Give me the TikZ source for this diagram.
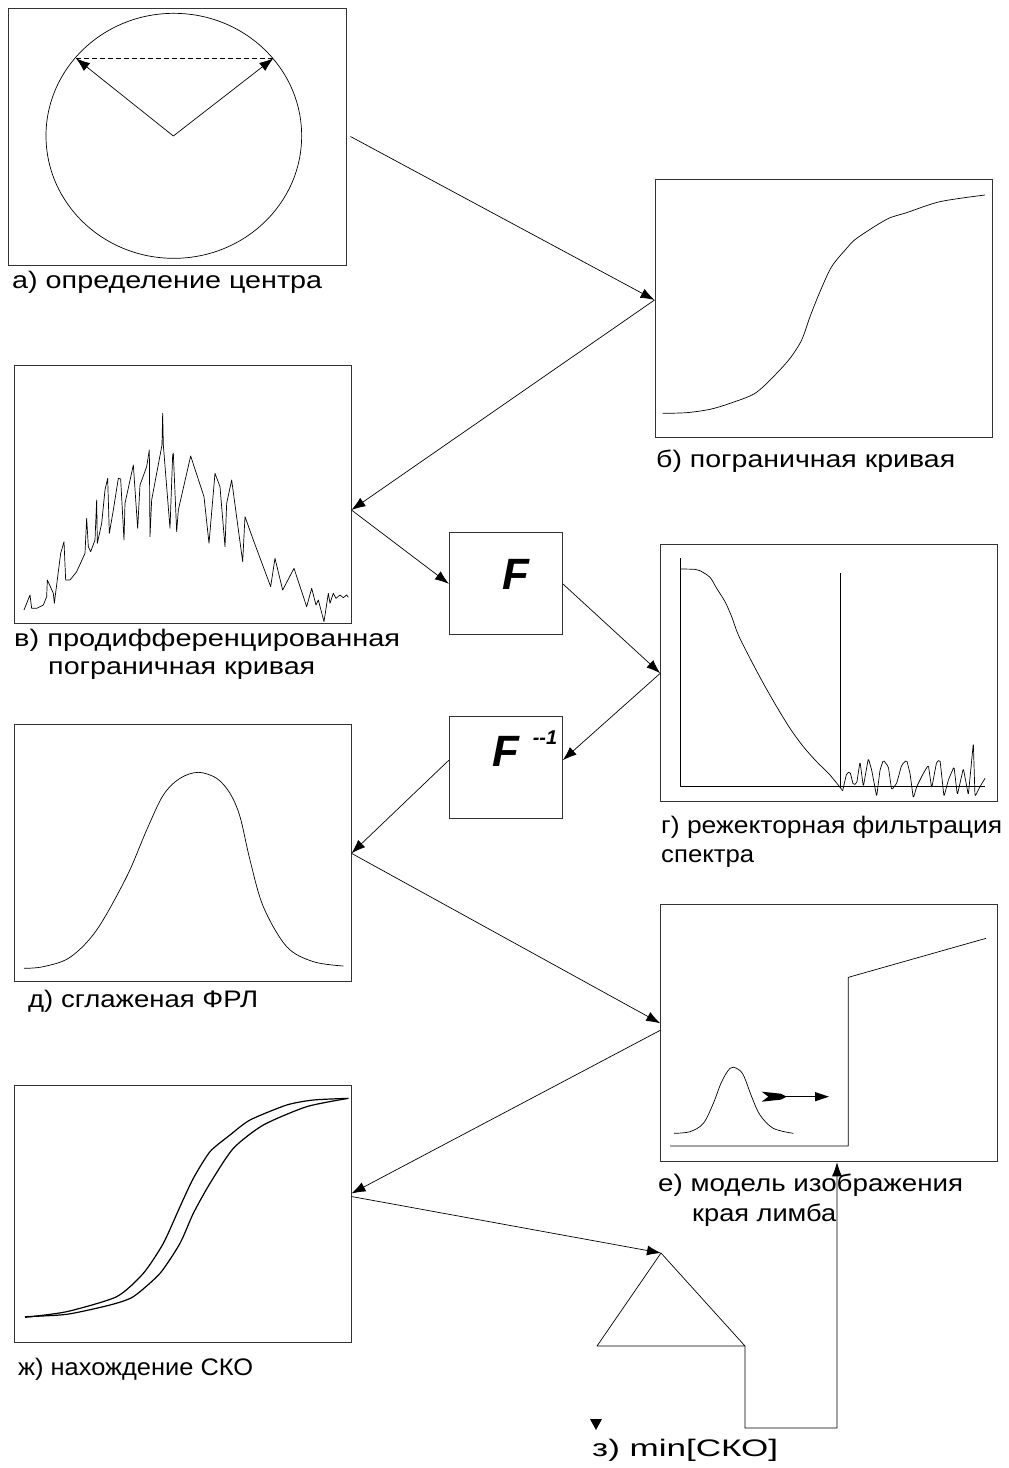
\documentclass[tikz,border=0pt]{standalone}
\usepackage{graphicx}
\usepackage{fontspec}
\setmainfont{Liberation Sans}
\newfontfamily\labfont{Liberation Sans}
\newcommand{\fitw}[2]{\resizebox{#1}{\height}{#2}}
\usetikzlibrary{arrows.meta,calc}
\begin{document}
\begin{tikzpicture}[x=1bp,y=-1bp,
  panel/.style={draw=black!80,line width=0.9bp,inner sep=0,minimum width=337bp,minimum height=257bp},
  fbox/.style={draw=black!80,line width=0.9bp,inner sep=0,minimum width=113bp,minimum height=102bp},
  conn/.style={-{Latex[length=14bp,width=10bp]},line width=0.7bp},
  curve/.style={line width=0.7bp,line join=round},
  lab/.style={anchor=base west,inner sep=0,font=\labfont\fontsize{24}{28}\selectfont},
  ftext/.style={inner sep=0,font=\bfseries\itshape\fontsize{44}{44}\selectfont}]
\useasboundingbox (0,0) rectangle (1008,1468);

% boxes
\node[panel,minimum width=338bp] (a) at (177,136.5) {};
\node[panel,minimum height=258bp] (b) at (823.5,308) {};
\node[panel,minimum height=258bp] (v) at (182.5,494) {};
\node[fbox] (F) at (505.8,583.8) {};
\node[panel] (g) at (829.2,673.3) {};
\node[fbox] (Fi) at (505.8,767.2) {};
\node[panel] (d) at (182.5,853.3) {};
\node[panel] (e) at (829.2,1033.3) {};
\node[panel] (zh) at (182.5,1213.5) {};

% labels
\node[lab] (la) at (12,288) {\fitw{310bp}{а) определение центра}};
\node[lab] (lb) at (656,467) {\fitw{299bp}{б) пограничная кривая}};
\node[lab] (lv1) at (14,646) {\fitw{386bp}{в) продифференцированная}};
\node[lab] (lv2) at (48,674) {\fitw{267bp}{пограничная кривая}};
\node[lab] (lg1) at (661,833) {\fitw{341bp}{г) режекторная фильтрация}};
\node[lab] (lg2) at (661,862) {\fitw{93bp}{спектра}};
\node[lab] (ld) at (28,1007) {\fitw{230bp}{д) сглаженая ФРЛ}};
\node[lab] (le1) at (658,1191) {\fitw{305bp}{е) модель изображения}};
\node[lab] (le2) at (692,1221) {\fitw{144bp}{края лимба}};
\node[lab] (lzh) at (18,1375) {\fitw{235bp}{ж) нахождение СКО}};
\node[lab] (lz) at (592,1456) {\fitw{186bp}{з) min[СКО]}};

% F boxes text
\node[ftext] (Ft) at (516,574) {F};
\node[ftext] (Fit) at (506,751) {F};
\node[inner sep=0,font=\bfseries\itshape\fontsize{20}{20}\selectfont] (Fis) at (545,738) {{-}{-}1};

% panel a: circle
\begin{scope}[shift={(0,0)},scale=1/3]
  \draw[curve] (521.5,407.5) ellipse [x radius=767/2, y radius=735/2];
  \coordinate (ac) at (520,408);
  \coordinate (al) at (228,175);
  \coordinate (ar) at (820,175);
\end{scope}
\draw[dashed,line width=0.7bp,dash pattern=on 5bp off 3bp] (al) -- (ar);
\draw[conn] (ac) -- (al);
\draw[conn] (ac) -- (ar);

% panel b curve
\begin{scope}[shift={(620,170)},scale=1/3]
  \draw[curve] plot[smooth,tension=0.5] coordinates {(128,730) (200,728) (270,718) (330,700) (405,670) (465,615) (510,565) (545,510) (570,440) (600,365) (635,290) (680,235) (710,205) (800,148) (860,128) (960,95) (1095,75)};
\end{scope}

% panel v noisy derivative
\begin{scope}[shift={(0,360)},scale=1/3]
  \draw[curve] (72,750) -- (90,705) -- (95,745) -- (110,745) -- (130,735) -- (140,710) -- (142,660) -- (160,700) -- (163,730) -- (168,690) -- (182,580) -- (192,545) -- (197,660) -- (210,660) -- (230,635) -- (255,580) -- (260,475) -- (265,560) -- (272,575) -- (285,540) -- (290,420) -- (292,550) -- (305,490) -- (315,390) -- (323,355) -- (328,520) -- (340,450) -- (355,355) -- (362,357) -- (372,540) -- (375,430) -- (400,315) -- (413,505) -- (420,375) -- (440,320) -- (448,270) -- (450,530) -- (455,420) -- (486,255) -- (488,160) -- (490,255) -- (510,505) -- (518,285) -- (520,280) -- (530,515) -- (535,450) -- (572,288) -- (612,410) -- (627,550) -- (645,340) -- (660,380) -- (675,560) -- (680,430) -- (695,360) -- (728,605) -- (735,470) -- (760,540) -- (812,680) -- (825,595) -- (848,690) -- (882,625) -- (920,740) -- (935,685) -- (948,735) -- (955,720) -- (972,785) -- (985,700) -- (990,730) -- (1000,700) -- (1008,715) -- (1020,705) -- (1030,713) -- (1040,705) -- (1045,712);
\end{scope}

% panel g spectrum
\begin{scope}[shift={(650,540)},scale=1/3]
  \draw[curve] (90,55) -- (90,740) -- (1005,740);
  \draw[curve] plot[smooth,tension=0.5] coordinates {(90,87) (135,88) (150,92) (180,112) (200,145) (225,185) (245,230) (265,285) (300,355) (340,430) (380,500) (420,565) (460,620) (500,665) (540,705) (578,752)};
  \draw[line width=1.4bp] (572,100) -- (572,745);
  \draw[curve,rounded corners=1.5bp] (578,752) -- (590,700) -- (600,695) -- (610,735) -- (620,730) -- (630,665) -- (640,740) -- (655,655) -- (665,690) -- (680,770) -- (690,690) -- (700,660) -- (715,680) -- (725,750) -- (740,730) -- (755,675) -- (770,660) -- (780,700) -- (790,775) -- (800,740) -- (820,700) -- (835,675) -- (845,745) -- (860,665) -- (870,660) -- (882,770) -- (895,720) -- (912,680) -- (922,765) -- (940,685) -- (955,765) -- (970,610) -- (975,770) -- (990,740) -- (1005,715);
\end{scope}

% panel d bell
\begin{scope}[shift={(0,720)},scale=1/3]
  \draw[curve] plot[smooth,tension=0.55] coordinates {(72,745) (130,740) (210,712) (290,630) (380,470) (440,330) (490,225) (540,175) (595,157) (650,175) (690,220) (720,290) (750,420) (790,560) (860,680) (940,725) (1030,738)};
\end{scope}

% panel e model
\begin{scope}[shift={(650,900)},scale=1/3]
  \draw[curve] (60,738) -- (595,738) -- (595,232) -- (1008,115);
  \draw[curve] plot[smooth,tension=0.55] coordinates {(72,700) (120,695) (160,670) (190,610) (215,545) (240,505) (260,505) (280,525) (305,590) (330,645) (370,685) (430,700)};
  \fill (335,575) -- (392,581) -- (410,590) -- (392,599) -- (335,605) -- (355,590) -- cycle;
  \draw[line width=1bp] (405,590) -- (500,590);
  \fill (495,576) -- (537,590) -- (495,604) -- cycle;
\end{scope}

% panel zh two curves
\begin{scope}[shift={(0,1080)},scale=1/3]
  \draw[line width=1.2bp,line join=round] plot[smooth,tension=0.4] coordinates {(75,712) (200,695) (350,650) (430,580) (490,490) (540,380) (580,295) (630,215) (690,165) (750,120) (860,75) (940,60) (1045,55)};
  \draw[line width=1.2bp,line join=round] plot[smooth,tension=0.4] coordinates {(75,710) (200,703) (330,675) (400,650) (480,580) (540,490) (580,400) (630,310) (700,205) (790,135) (920,80) (1045,55)};
\end{scope}

% triangle block
\coordinate (tA) at (661,1253);
\coordinate (tL) at (597,1346);
\coordinate (tR) at (745,1346);
\coordinate (tB) at (837,1428);
\draw[curve] (tA) -- (tL) -- (tR) -- cycle;
\fill (590,1419) -- (602,1419) -- (596,1430) -- cycle;

% connectors
\draw[conn] ([xshift=4bp]a.east) -- ([yshift=8bp]b.west);
\draw[conn] ([yshift=8bp]b.west) -- ([yshift=-16bp]v.east);
\draw[conn] ([yshift=-16bp]v.east) -- (F.west);
\draw[conn] (F.east) -- (g.west);
\draw[conn] (g.west) -- ([yshift=7bp]Fi.east);
\draw[conn] ([yshift=7bp]Fi.west) -- (d.east);
\draw[conn] (d.east) -- ([yshift=10bp]e.west);
\draw[conn] ([yshift=3bp]e.west) -- ([yshift=20bp]zh.east);
\draw[conn] ([yshift=17bp]zh.east) -- (tA);
\draw[conn] (tR) |- (tB) -- ([xshift=7.8bp]e.south);
\end{tikzpicture}
\end{document}
